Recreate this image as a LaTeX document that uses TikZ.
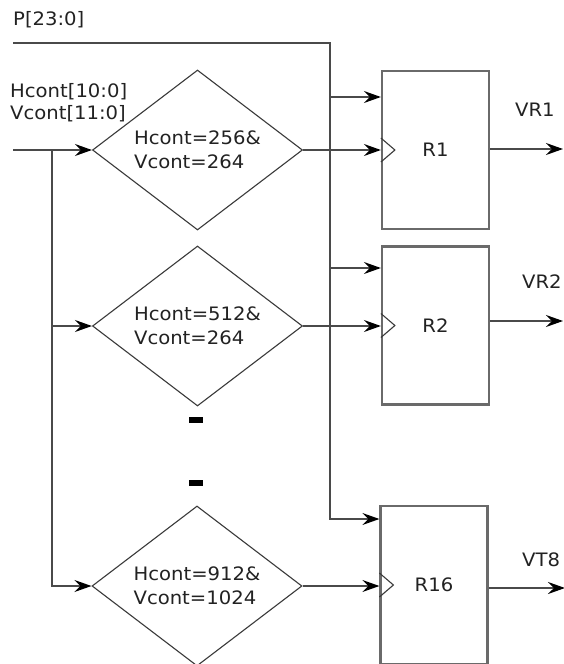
\documentclass[tikz,border=0pt]{standalone}
\usepackage{fontspec}
\setmainfont[FakeStretch=1.06]{DejaVu Sans}
\usetikzlibrary{shapes.geometric,arrows.meta}
\definecolor{wirec}{HTML}{4A4A4A}
\definecolor{diac}{HTML}{3A3A3A}
\definecolor{boxc}{HTML}{6A6A6A}
\definecolor{txtc}{HTML}{222222}
\newcommand\diagfont{\fontsize{18.5}{24}\selectfont}
\begin{document}
\begin{tikzpicture}[x=1pt,y=-1pt,
  wire/.style={draw=wirec, line width=1.4pt},
  arr/.style={wire, -{Stealth[length=17pt,width=12pt,inset=6pt,color=black]}},
  cond/.style={diamond, draw=diac, line width=1.1pt, minimum width=210pt, minimum height=160pt, inner sep=0pt, shape aspect=1.31, align=left, font=\diagfont, text=txtc},
  reg/.style={rectangle, draw=boxc, line width=2.2pt, minimum width=107pt, minimum height=158pt, inner sep=0pt, font=\diagfont, text=txtc},
  lbl/.style={font=\diagfont, text=txtc, inner sep=0pt, anchor=base west},
  olbl/.style={font=\diagfont, text=txtc, inner sep=0pt, anchor=west},
  clk/.style={draw=diac, line width=1.1pt},
  dotmark/.style={fill=black, minimum width=14pt, minimum height=6pt, inner sep=0pt}
]
\fill[white] (0,0) rectangle (564,664);
\useasboundingbox (0,0) rectangle (564,664);

% text labels
\node[lbl] (ptxt) at (13,25) {P[23:0]};
\node[lbl] (htxt) at (10,97) {Hcont[10:0]};
\node[lbl] (vtxt) at (10,119) {Vcont[11:0]};

% comparators
\node[cond] (D1) at (197.5,150) {Hcont=256\&\\Vcont=264};
\node[cond] (D2) at (197.5,326) {Hcont=512\&\\Vcont=264};
\node[cond] (D3) at (197,586) {Hcont=912\&\\Vcont=1024};

% continuation marks
\node[dotmark] (dA) at (196,420) {};
\node[dotmark] (dB) at (196,483) {};

% registers
\node[reg] (R1) at (435.5,150) {R1};
\node[reg] (R2) at (435.5,325.5) {R2};
\node[reg] (R16) at (434,585) {R16};

% clock triangles
\draw[clk] ([yshift=12pt]R1.west) -- ++(14,12) -- ++(-14,12);
\draw[clk] ([yshift=12pt]R2.west) -- ++(14,12) -- ++(-14,12);
\draw[clk] ([yshift=12pt]R16.west) -- ++(14,12) -- ++(-14,12);

% P bus
\coordinate (pS) at (13,43);
\coordinate (pC) at (330,43);
\coordinate (pB) at (330,519);
\coordinate (p1) at (330,97);
\coordinate (p2) at (330,268);
\draw[arr] (pS) -- (pC) -- (pB) -- (pB -| R16.west);
\draw[arr] (p1) -- (p1 -| R1.west);
\draw[arr] (p2) -- (p2 -| R2.west);

% H/V input bus
\coordinate (inS) at (13,150);
\coordinate (busT) at (52,150);
\coordinate (busB) at (52,586);
\draw[arr] (inS) -- (D1.west);
\draw[arr] (busT) -- (busB) -- (D3.west);
\draw[arr] (busT |- D2.west) -- (D2.west);

% comparator to register clocks
\draw[arr] (D1.east) -- (D1.east -| R1.west);
\draw[arr] (D2.east) -- (D2.east -| R2.west);
\draw[arr] (D3.east) -- (D3.east -| R16.west);

% outputs
\coordinate (o1) at (563,149);
\coordinate (o2) at (563,321);
\coordinate (o3) at (565,588);
\draw[arr] (o1 -| R1.east) -- (o1);
\draw[arr] (o2 -| R2.east) -- (o2);
\draw[arr] (o3 -| R16.east) -- (o3);

\node[olbl] (vr1) at (515,110) {VR1};
\node[olbl] (vr2) at (522,282) {VR2};
\node[olbl] (vt8) at (522,560) {VT8};
\end{tikzpicture}
\end{document}
